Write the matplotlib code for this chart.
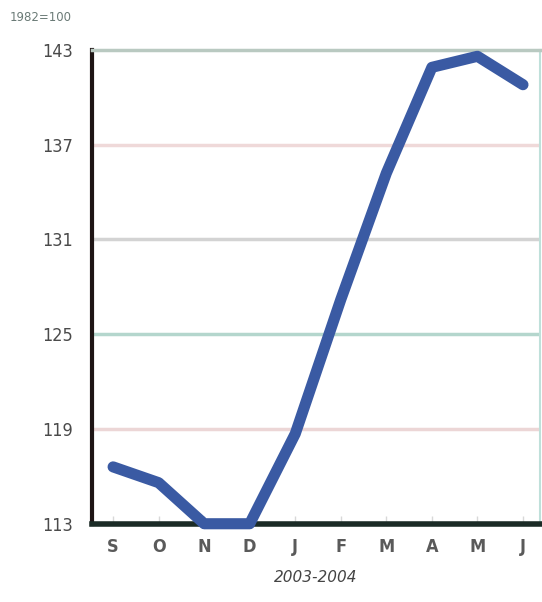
import matplotlib
matplotlib.use("Agg")
import matplotlib.pyplot as plt

months = ["S", "O", "N", "D", "J", "F", "M", "A", "M", "J"]
index_vals = [116.6, 115.6, 113.0, 113.0, 118.7, 127.2, 135.2, 141.9, 142.6, 140.8]
yticks = [113, 119, 125, 131, 137, 143]
grid_colors = {119: "#ecd6d6", 125: "#b4d6cd", 131: "#d3d3d3", 137: "#efd9d9"}

plt.rcParams["font.family"] = ["DejaVu Sans"]

fig = plt.figure(figsize=(5.42, 6.02), dpi=100)
ax = fig.add_axes([0.170, 0.130, 0.826, 0.787])

xs = list(range(len(months)))
for y, c in grid_colors.items():
    ax.axhline(y, color=c, lw=2.5, zorder=1)

ax.plot(xs, index_vals, color="#3a5aa3", lw=8, solid_capstyle="round",
        solid_joinstyle="round", zorder=3, clip_on=False)

ax.set_xlim(-0.46, 9.37)
ax.set_ylim(113, 143)
ax.set_yticks(yticks)
ax.set_yticklabels([str(t) for t in yticks], fontsize=13, color="#4a4a4a",
                   fontstretch="condensed")
ax.set_xticks(xs)
ax.set_xticklabels(months, fontsize=13, color="#5a5a5a", fontweight="semibold",
                   fontstretch="condensed")
ax.tick_params(axis="y", length=0, pad=14)
ax.tick_params(axis="x", direction="in", length=6, width=1, color="#d8d8d8", pad=10)

ax.spines["left"].set_color("#1e1414")
ax.spines["left"].set_linewidth(3)
ax.spines["bottom"].set_color("#1b2b26")
ax.spines["bottom"].set_linewidth(4)
ax.spines["top"].set_color("#b9c9c1")
ax.spines["top"].set_linewidth(2.5)
ax.spines["right"].set_color("#bfe0da")
ax.spines["right"].set_linewidth(1.5)

ax.set_xlabel("2003-2004", fontsize=11, style="italic", color="#444444",
              labelpad=10)

fig.text(0.018, 0.965, "1982=100", fontsize=8.5, color="#6a7a76")

fig.savefig("out.png", dpi=100)
